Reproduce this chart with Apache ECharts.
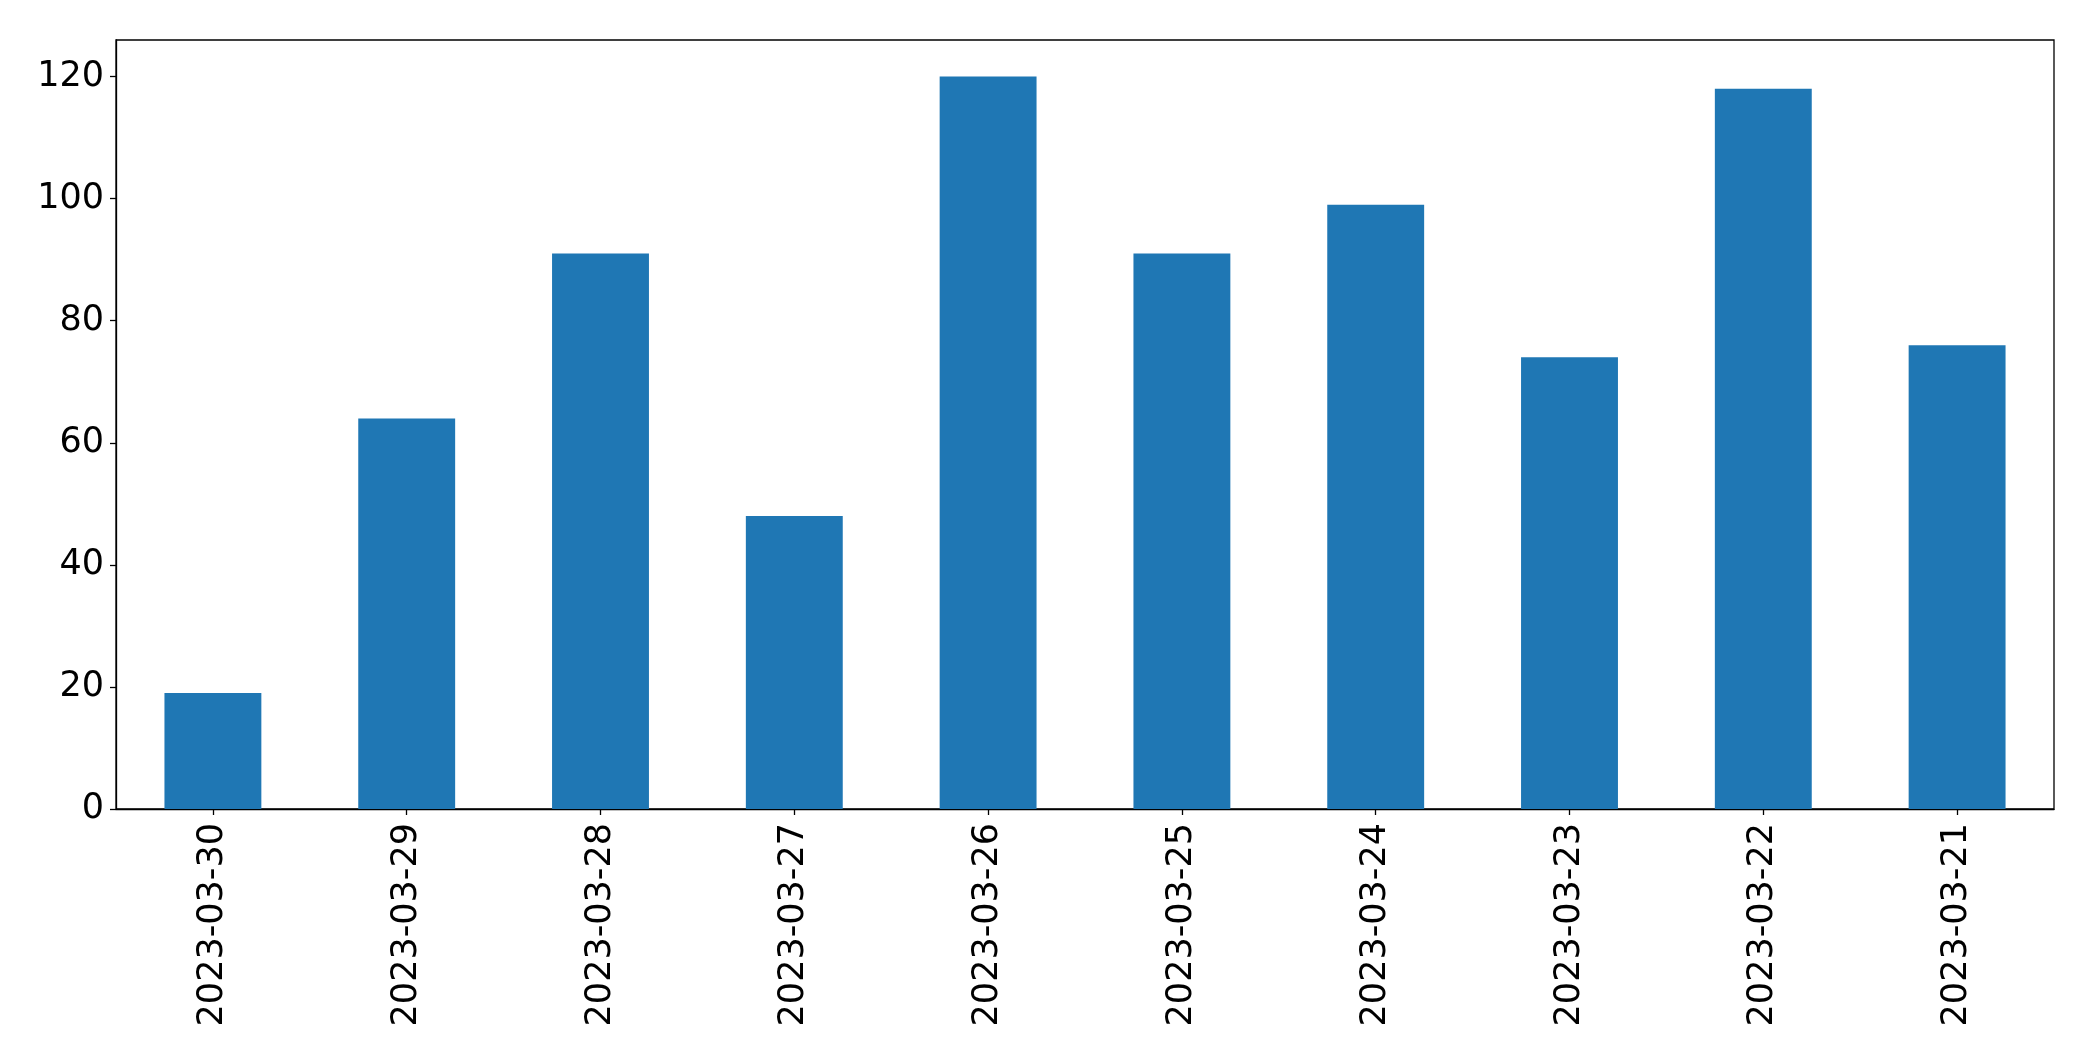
<!DOCTYPE html>
<html><head><meta charset="utf-8">
<script src="https://cdn.jsdelivr.net/npm/echarts@6/dist/echarts.min.js"></script>
<style>html,body{margin:0;padding:0;background:#fff}#c{width:2093px;height:1061px}</style>
</head><body><div id="c"></div>
<script>
const categories = ['2023-03-30','2023-03-29','2023-03-28','2023-03-27','2023-03-26','2023-03-25','2023-03-24','2023-03-23','2023-03-22','2023-03-21'];
const values = [19, 64, 91, 48, 120, 91, 99, 74, 118, 76];
const yTicks = [0, 20, 40, 60, 80, 100, 120];

const chart = echarts.init(document.getElementById('c'), null, {renderer:'canvas'});
const font = 'DejaVu Sans';
chart.setOption({
  animation: false,
  grid: {left:116, right:39, top:40, bottom:252, show:true, borderColor:'#000', borderWidth:1.3, backgroundColor:'transparent'},
  xAxis: {
    type:'category', data:categories,
    axisLine:{show:true, lineStyle:{color:'#000', width:1.3}},
    axisTick:{show:true, alignWithLabel:true, length:6, inside:false, lineStyle:{color:'#000', width:1.3}},
    axisLabel:{rotate:90, margin:14, color:'#000', fontFamily:font, fontSize:35, interval:0},
    splitLine:{show:false}
  },
  yAxis: {
    type:'value', min:0, max:126, interval:20,
    axisLine:{show:true, lineStyle:{color:'#000', width:1.3}},
    axisTick:{show:true, length:6, lineStyle:{color:'#000', width:1.3}, customValues: yTicks},
    axisLabel:{color:'#000', fontFamily:font, fontSize:35, margin:12, customValues: yTicks},
    splitLine:{show:false}
  },
  series: [{
    type:'bar', data:values, barWidth:'50%',
    itemStyle:{color:'#1f77b4'}
  }]
});
</script></body></html>
